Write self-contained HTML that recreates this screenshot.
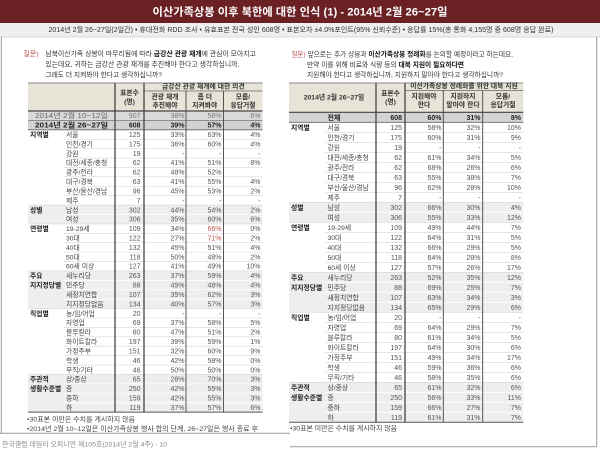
<!DOCTYPE html>
<html><head><meta charset="utf-8"><style>
html,body{margin:0;padding:0;background:#fff;}
svg{display:block;font-family:"Liberation Sans","Noto Sans CJK KR",sans-serif;}
.n text{font-size:7px;fill:#555;}
.lb text{font-size:6.8px;fill:#444;}
.gl text{font-size:6.8px;fill:#222;font-weight:bold;}
.hd text{font-size:6.8px;fill:#333;font-weight:bold;text-anchor:middle;}
</style></head><body>
<svg width="600" height="450" viewBox="0 0 600 450" xmlns="http://www.w3.org/2000/svg">
<rect x="0" y="0" width="600" height="450" fill="#fff"/>
<!-- title bar -->
<rect x="0" y="0" width="600" height="23" fill="#6b2124"/>
<text x="300" y="15.5" fill="#fff" font-size="11" font-weight="bold" text-anchor="middle" textLength="295" lengthAdjust="spacingAndGlyphs">이산가족상봉 이후 북한에 대한 인식 (1) - 2014년 2월 26~27일</text>
<rect x="0" y="23" width="600" height="14" fill="#efefef"/>
<line x1="0" y1="37" x2="600" y2="37" stroke="#cfcfcf" stroke-width="0.8"/>
<text x="301" y="32" fill="#333" font-size="7" text-anchor="middle" textLength="505" lengthAdjust="spacingAndGlyphs">2014년 2월 26~27일(2일간) • 휴대전화 RDD 조사 • 유효표본 전국 성인 608명 • 표본오차 ±4.0%포인트(95% 신뢰수준) • 응답률 15%(총 통화 4,155명 중 608명 응답 완료)</text>
<!-- frame -->
<line x1="1.3" y1="37" x2="1.3" y2="433.3" stroke="#999" stroke-width="1"/>
<line x1="596.7" y1="37" x2="596.7" y2="446.7" stroke="#999" stroke-width="1"/>
<line x1="0" y1="433.3" x2="290" y2="433.3" stroke="#999" stroke-width="1"/>
<line x1="290" y1="446.7" x2="597" y2="446.7" stroke="#999" stroke-width="1"/>
<text x="2" y="446.3" fill="#888" font-size="6.8" textLength="165" lengthAdjust="spacingAndGlyphs">한국갤럽 데일리 오피니언 제105호(2014년 2월 4주) - 10</text>

<!-- LEFT question -->
<text x="23.5" y="56" fill="#c0504d" font-size="6.8" textLength="15" lengthAdjust="spacingAndGlyphs">질문)</text>
<text x="45.4" y="56" fill="#333" font-size="6.8" textLength="210.5" lengthAdjust="spacingAndGlyphs">남북이산가족 상봉이 마무리됨에 따라 <tspan font-weight="bold" fill="#111">금강산 관광 재개</tspan>에 관심이 모아지고</text>
<text x="45.4" y="66.5" fill="#333" font-size="6.8" textLength="194" lengthAdjust="spacingAndGlyphs">있는데요, 귀하는 금강산 관광 재개를 추진해야 한다고 생각하십니까,</text>
<text x="45.4" y="77" fill="#333" font-size="6.8" textLength="116.6" lengthAdjust="spacingAndGlyphs">그래도 더 지켜봐야 한다고 생각하십니까?</text>

<!-- RIGHT question -->
<text x="291.5" y="56.5" fill="#c0504d" font-size="6.8" textLength="14" lengthAdjust="spacingAndGlyphs">질문)</text>
<text x="307.5" y="56.5" fill="#333" font-size="6.8" textLength="205.5" lengthAdjust="spacingAndGlyphs">앞으로는 추가 상봉과 <tspan font-weight="bold" fill="#111">이산가족상봉 정례화</tspan>를 논의할 예정이라고 하는데요,</text>
<text x="307" y="66.8" fill="#333" font-size="6.8" textLength="157" lengthAdjust="spacingAndGlyphs">만약 이를 위해 비료와 식량 등의 <tspan font-weight="bold" fill="#111">대북 지원이 필요하다면</tspan></text>
<text x="307" y="77" fill="#333" font-size="6.8" textLength="196" lengthAdjust="spacingAndGlyphs">지원해야 한다고 생각하십니까, 지원하지 말아야 한다고 생각하십니까?</text>

<!-- ================= LEFT TABLE ================= -->
<rect x="28" y="83" width="234.5" height="28" fill="#e7e3d7"/>
<rect x="28" y="111" width="234.5" height="9.4" fill="#dadada"/>
<rect x="28" y="120.4" width="234.5" height="9.4" fill="#d2d2d2"/>
<rect x="28" y="205.08" width="234.5" height="18.82" fill="#eeeeee"/>
<rect x="28" y="270.95" width="234.5" height="37.64" fill="#eeeeee"/>
<rect x="28" y="374.46" width="234.5" height="37.64" fill="#eeeeee"/>
<g stroke="#d6d6d6" stroke-width="0.6">
<line x1="64" y1="139.21" x2="262.5" y2="139.21"/><line x1="64" y1="148.62" x2="262.5" y2="148.62"/><line x1="64" y1="158.03" x2="262.5" y2="158.03"/><line x1="64" y1="167.44" x2="262.5" y2="167.44"/><line x1="64" y1="176.85" x2="262.5" y2="176.85"/><line x1="64" y1="186.26" x2="262.5" y2="186.26"/><line x1="64" y1="195.67" x2="262.5" y2="195.67"/><line x1="28" y1="205.08" x2="262.5" y2="205.08"/><line x1="28" y1="223.9" x2="262.5" y2="223.9"/><line x1="64" y1="233.31" x2="262.5" y2="233.31"/><line x1="64" y1="242.72" x2="262.5" y2="242.72"/><line x1="64" y1="252.13" x2="262.5" y2="252.13"/><line x1="64" y1="261.54" x2="262.5" y2="261.54"/><line x1="28" y1="270.95" x2="262.5" y2="270.95"/><line x1="28" y1="308.59" x2="262.5" y2="308.59"/><line x1="64" y1="318" x2="262.5" y2="318"/><line x1="64" y1="327.41" x2="262.5" y2="327.41"/><line x1="64" y1="336.82" x2="262.5" y2="336.82"/><line x1="64" y1="346.23" x2="262.5" y2="346.23"/><line x1="64" y1="355.64" x2="262.5" y2="355.64"/><line x1="64" y1="365.05" x2="262.5" y2="365.05"/><line x1="28" y1="374.46" x2="262.5" y2="374.46"/>
</g>
<g stroke="#ffffff" stroke-width="0.8">
<line x1="64" y1="214.49" x2="262.5" y2="214.49"/><line x1="64" y1="280.36" x2="262.5" y2="280.36"/><line x1="64" y1="289.77" x2="262.5" y2="289.77"/><line x1="64" y1="299.18" x2="262.5" y2="299.18"/><line x1="64" y1="383.87" x2="262.5" y2="383.87"/><line x1="64" y1="393.28" x2="262.5" y2="393.28"/><line x1="64" y1="402.69" x2="262.5" y2="402.69"/>
</g>
<line x1="28" y1="83" x2="262.5" y2="83" stroke="#8a8a8a" stroke-width="1"/>
<line x1="144" y1="91" x2="262.5" y2="91" stroke="#666" stroke-width="0.8"/>
<line x1="28" y1="111" x2="262.5" y2="111" stroke="#444" stroke-width="1.2"/>
<line x1="28" y1="120.4" x2="262.5" y2="120.4" stroke="#777" stroke-width="0.8"/>
<line x1="28" y1="129.8" x2="262.5" y2="129.8" stroke="#666" stroke-width="0.9"/>
<line x1="28" y1="412.1" x2="262.5" y2="412.1" stroke="#555" stroke-width="1"/>
<line x1="115" y1="83" x2="115" y2="412.1" stroke="#444" stroke-width="1.3"/>
<line x1="144" y1="83" x2="144" y2="412.1" stroke="#444" stroke-width="1.3"/>
<line x1="186" y1="91" x2="186" y2="412.1" stroke="#444" stroke-width="0.9"/>
<line x1="223.5" y1="91" x2="223.5" y2="412.1" stroke="#444" stroke-width="0.9"/>

<g class="hd">
<text x="203.3" y="88.6">금강산 관광 재개에 대한 의견</text>
<text x="165" y="99.2">관광 재개</text><text x="165" y="107.6">추진해야</text>
<text x="204.8" y="99.2">좀 더</text><text x="204.8" y="107.6">지켜봐야</text>
<text x="243" y="99.2">모름/</text><text x="243" y="107.6">응답거절</text>
<text x="129.5" y="95.2">표본수</text><text x="129.5" y="104">(명)</text>
</g>
<text x="71.5" y="118.2" fill="#666" font-size="7" text-anchor="middle" textLength="73" lengthAdjust="spacingAndGlyphs">2014년 2월 10~12일</text>
<text x="71.5" y="127.6" fill="#222" font-size="7" font-weight="bold" text-anchor="middle" textLength="73" lengthAdjust="spacingAndGlyphs">2014년 2월 26~27일</text>
<g font-size="7" text-anchor="end" fill="#777">
<text x="140.5" y="118.2">907</text><text x="184.5" y="118.2">38%</text><text x="221.5" y="118.2">56%</text><text x="260.5" y="118.2">6%</text>
</g>
<g font-size="7" text-anchor="end" fill="#222" font-weight="bold">
<text x="140.5" y="127.6">608</text><text x="184.5" y="127.6">39%</text><text x="221.5" y="127.6">57%</text><text x="260.5" y="127.6">4%</text>
</g>

<g class="gl">
<text x="30" y="137">지역별</text><text x="30" y="212.3">성별</text><text x="30" y="231.1">연령별</text><text x="30" y="278.2">주요</text><text x="30" y="287.6">지지정당별</text><text x="30" y="315.8">직업별</text><text x="30" y="381.7">주관적</text><text x="30" y="391.1">생활수준별</text>
</g>
<g class="lb" transform="translate(66,0)">
<text y="137">서울</text><text y="146.4">인천/경기</text><text y="155.8">강원</text><text y="165.2">대전/세종/충청</text><text y="174.6">광주/전라</text><text y="184.1">대구/경북</text><text y="193.5">부산/울산/경남</text><text y="202.9">제주</text><text y="212.3">남성</text><text y="221.7">여성</text><text y="231.1">19-29세</text><text y="240.5">30대</text><text y="249.9">40대</text><text y="259.3">50대</text><text y="268.7">60세 이상</text><text y="278.2">새누리당</text><text y="287.6">민주당</text><text y="297">새정치연합</text><text y="306.4">지지정당없음</text><text y="315.8">농/임/어업</text><text y="325.2">자영업</text><text y="334.6">블루칼라</text><text y="344">화이트칼라</text><text y="353.4">가정주부</text><text y="362.8">학생</text><text y="372.3">무직/기타</text><text y="381.7">상/중상</text><text y="391.1">중</text><text y="400.5">중하</text><text y="409.9">하</text>
</g>
<g class="n" text-anchor="end" transform="translate(140.5,0)">
<text y="137">125</text><text y="146.4">175</text><text y="155.8">19</text><text y="165.2">62</text><text y="174.6">62</text><text y="184.1">63</text><text y="193.5">96</text><text y="202.9">7</text><text y="212.3">302</text><text y="221.7">306</text><text y="231.1">109</text><text y="240.5">122</text><text y="249.9">132</text><text y="259.3">118</text><text y="268.7">127</text><text y="278.2">263</text><text y="287.6">88</text><text y="297">107</text><text y="306.4">134</text><text y="315.8">20</text><text y="325.2">69</text><text y="334.6">80</text><text y="344">197</text><text y="353.4">151</text><text y="362.8">46</text><text y="372.3">46</text><text y="381.7">65</text><text y="391.1">250</text><text y="400.5">159</text><text y="409.9">119</text>
</g>
<g class="n" text-anchor="end" transform="translate(184.5,0)">
<text y="137">33%</text><text y="146.4">36%</text><text y="155.8">-</text><text y="165.2">41%</text><text y="174.6">48%</text><text y="184.1">41%</text><text y="193.5">45%</text><text y="202.9">-</text><text y="212.3">44%</text><text y="221.7">35%</text><text y="231.1">34%</text><text y="240.5">27%</text><text y="249.9">45%</text><text y="259.3">50%</text><text y="268.7">41%</text><text y="278.2">37%</text><text y="287.6">49%</text><text y="297">35%</text><text y="306.4">40%</text><text y="315.8">-</text><text y="325.2">37%</text><text y="334.6">47%</text><text y="344">39%</text><text y="353.4">32%</text><text y="362.8">42%</text><text y="372.3">50%</text><text y="381.7">28%</text><text y="391.1">42%</text><text y="400.5">42%</text><text y="409.9">37%</text>
</g>
<g class="n" text-anchor="end" transform="translate(221.5,0)">
<text y="137">63%</text><text y="146.4">60%</text><text y="155.8">-</text><text y="165.2">51%</text><text y="174.6">52%</text><text y="184.1">55%</text><text y="193.5">53%</text><text y="202.9">-</text><text y="212.3">54%</text><text y="221.7">60%</text><text y="231.1" style="fill:#c0504d">66%</text><text y="240.5" style="fill:#c0504d">71%</text><text y="249.9">51%</text><text y="259.3">48%</text><text y="268.7">49%</text><text y="278.2">59%</text><text y="287.6">48%</text><text y="297">62%</text><text y="306.4">57%</text><text y="315.8">-</text><text y="325.2">58%</text><text y="334.6">51%</text><text y="344">59%</text><text y="353.4">60%</text><text y="362.8">58%</text><text y="372.3">50%</text><text y="381.7">70%</text><text y="391.1">55%</text><text y="400.5">55%</text><text y="409.9">57%</text>
</g>
<g class="n" text-anchor="end" transform="translate(260.5,0)">
<text y="137">4%</text><text y="146.4">4%</text><text y="155.8">-</text><text y="165.2">8%</text><text y="184.1">4%</text><text y="193.5">2%</text><text y="202.9">-</text><text y="212.3">2%</text><text y="221.7">6%</text><text y="231.1">0%</text><text y="240.5">2%</text><text y="249.9">4%</text><text y="259.3">2%</text><text y="268.7">10%</text><text y="278.2">4%</text><text y="287.6">4%</text><text y="297">3%</text><text y="306.4">3%</text><text y="315.8">-</text><text y="325.2">5%</text><text y="334.6">2%</text><text y="344">1%</text><text y="353.4">9%</text><text y="362.8">0%</text><text y="372.3">0%</text><text y="381.7">3%</text><text y="391.1">3%</text><text y="400.5">3%</text><text y="409.9">6%</text>
</g>
<text x="27" y="421.5" fill="#444" font-size="6.8" textLength="108" lengthAdjust="spacingAndGlyphs">•30표본 미만은 수치를 게시하지 않음</text>
<text x="27" y="431" fill="#444" font-size="6.8" textLength="231" lengthAdjust="spacingAndGlyphs">•2014년 2월 10~12일은 이산가족상봉 행사 합의 단계, 26~27일은 행사 종료 후</text>

<!-- ================= RIGHT TABLE ================= -->
<rect x="289" y="83" width="234.3" height="29.3" fill="#e7e3d7"/>
<rect x="289" y="112.3" width="234.3" height="10" fill="#d4d4d4"/>
<rect x="289" y="202.3" width="234.3" height="20" fill="#eeeeee"/>
<rect x="289" y="272.3" width="234.3" height="40" fill="#eeeeee"/>
<rect x="289" y="382.3" width="234.3" height="40" fill="#eeeeee"/>
<g stroke="#d6d6d6" stroke-width="0.6">
<line x1="325" y1="132.3" x2="523.3" y2="132.3"/><line x1="325" y1="142.3" x2="523.3" y2="142.3"/><line x1="325" y1="152.3" x2="523.3" y2="152.3"/><line x1="325" y1="162.3" x2="523.3" y2="162.3"/><line x1="325" y1="172.3" x2="523.3" y2="172.3"/><line x1="325" y1="182.3" x2="523.3" y2="182.3"/><line x1="325" y1="192.3" x2="523.3" y2="192.3"/><line x1="289" y1="202.3" x2="523.3" y2="202.3"/><line x1="289" y1="222.3" x2="523.3" y2="222.3"/><line x1="325" y1="232.3" x2="523.3" y2="232.3"/><line x1="325" y1="242.3" x2="523.3" y2="242.3"/><line x1="325" y1="252.3" x2="523.3" y2="252.3"/><line x1="325" y1="262.3" x2="523.3" y2="262.3"/><line x1="289" y1="272.3" x2="523.3" y2="272.3"/><line x1="289" y1="312.3" x2="523.3" y2="312.3"/><line x1="325" y1="322.3" x2="523.3" y2="322.3"/><line x1="325" y1="332.3" x2="523.3" y2="332.3"/><line x1="325" y1="342.3" x2="523.3" y2="342.3"/><line x1="325" y1="352.3" x2="523.3" y2="352.3"/><line x1="325" y1="362.3" x2="523.3" y2="362.3"/><line x1="325" y1="372.3" x2="523.3" y2="372.3"/><line x1="289" y1="382.3" x2="523.3" y2="382.3"/>
</g>
<g stroke="#ffffff" stroke-width="0.8">
<line x1="325" y1="212.3" x2="523.3" y2="212.3"/><line x1="325" y1="282.3" x2="523.3" y2="282.3"/><line x1="325" y1="292.3" x2="523.3" y2="292.3"/><line x1="325" y1="302.3" x2="523.3" y2="302.3"/><line x1="325" y1="392.3" x2="523.3" y2="392.3"/><line x1="325" y1="402.3" x2="523.3" y2="402.3"/><line x1="325" y1="412.3" x2="523.3" y2="412.3"/>
</g>
<line x1="289" y1="83" x2="523.3" y2="83" stroke="#8a8a8a" stroke-width="1"/>
<line x1="405" y1="90.5" x2="523.3" y2="90.5" stroke="#666" stroke-width="0.8"/>
<line x1="289" y1="112.3" x2="523.3" y2="112.3" stroke="#444" stroke-width="1.2"/>
<line x1="289" y1="122.3" x2="523.3" y2="122.3" stroke="#666" stroke-width="0.9"/>
<line x1="289" y1="422.3" x2="523.3" y2="422.3" stroke="#555" stroke-width="1"/>
<line x1="376" y1="83" x2="376" y2="422.3" stroke="#444" stroke-width="1.3"/>
<line x1="405" y1="83" x2="405" y2="422.3" stroke="#444" stroke-width="1.3"/>
<line x1="443.3" y1="90.5" x2="443.3" y2="422.3" stroke="#444" stroke-width="0.9"/>
<line x1="482.7" y1="90.5" x2="482.7" y2="422.3" stroke="#444" stroke-width="0.9"/>

<g class="hd">
<text x="464" y="87.8">이산가족상봉 정례화를 위한 대북 지원</text>
<text x="424" y="98.5">지원해야</text><text x="424" y="107.2">한다</text>
<text x="463" y="98.5">지원하지</text><text x="463" y="107.2">말아야 한다</text>
<text x="503" y="98.5">모름/</text><text x="503" y="107.2">응답거절</text>
<text x="390.5" y="95.5">표본수</text><text x="390.5" y="104.2">(명)</text>
<text x="334" y="99.5">2014년 2월 26~27일</text>
</g>
<g font-size="7" fill="#222" font-weight="bold">
<text x="334" y="119.8" text-anchor="middle">전체</text>
<text x="402" y="119.8" text-anchor="end">608</text><text x="441.5" y="119.8" text-anchor="end">60%</text><text x="480.5" y="119.8" text-anchor="end">31%</text><text x="521" y="119.8" text-anchor="end">8%</text>
</g>

<g class="gl">
<text x="291" y="129.8">지역별</text><text x="291" y="209.8">성별</text><text x="291" y="229.8">연령별</text><text x="291" y="279.8">주요</text><text x="291" y="289.8">지지정당별</text><text x="291" y="319.8">직업별</text><text x="291" y="389.8">주관적</text><text x="291" y="399.8">생활수준별</text>
</g>
<g class="lb" transform="translate(327.5,0)">
<text y="129.8">서울</text><text y="139.8">인천/경기</text><text y="149.8">강원</text><text y="159.8">대전/세종/충청</text><text y="169.8">광주/전라</text><text y="179.8">대구/경북</text><text y="189.8">부산/울산/경남</text><text y="199.8">제주</text><text y="209.8">남성</text><text y="219.8">여성</text><text y="229.8">19-29세</text><text y="239.8">30대</text><text y="249.8">40대</text><text y="259.8">50대</text><text y="269.8">60세 이상</text><text y="279.8">새누리당</text><text y="289.8">민주당</text><text y="299.8">새정치연합</text><text y="309.8">지지정당없음</text><text y="319.8">농/임/어업</text><text y="329.8">자영업</text><text y="339.8">블루칼라</text><text y="349.8">화이트칼라</text><text y="359.8">가정주부</text><text y="369.8">학생</text><text y="379.8">무직/기타</text><text y="389.8">상/중상</text><text y="399.8">중</text><text y="409.8">중하</text><text y="419.8">하</text>
</g>
<g class="n" text-anchor="end" transform="translate(402,0)">
<text y="129.8">125</text><text y="139.8">175</text><text y="149.8">19</text><text y="159.8">62</text><text y="169.8">62</text><text y="179.8">63</text><text y="189.8">96</text><text y="199.8">7</text><text y="209.8">302</text><text y="219.8">306</text><text y="229.8">109</text><text y="239.8">122</text><text y="249.8">132</text><text y="259.8">118</text><text y="269.8">127</text><text y="279.8">263</text><text y="289.8">88</text><text y="299.8">107</text><text y="309.8">134</text><text y="319.8">20</text><text y="329.8">69</text><text y="339.8">80</text><text y="349.8">197</text><text y="359.8">151</text><text y="369.8">46</text><text y="379.8">46</text><text y="389.8">65</text><text y="399.8">250</text><text y="409.8">159</text><text y="419.8">119</text>
</g>
<g class="n" text-anchor="end" transform="translate(441.5,0)">
<text y="129.8">58%</text><text y="139.8">60%</text><text y="149.8">-</text><text y="159.8">61%</text><text y="169.8">68%</text><text y="179.8">55%</text><text y="189.8">62%</text><text y="199.8">-</text><text y="209.8">66%</text><text y="219.8">55%</text><text y="229.8">49%</text><text y="239.8">64%</text><text y="249.8">66%</text><text y="259.8">64%</text><text y="269.8">57%</text><text y="279.8">52%</text><text y="289.8">69%</text><text y="299.8">63%</text><text y="309.8">65%</text><text y="319.8">-</text><text y="329.8">64%</text><text y="339.8">61%</text><text y="349.8">64%</text><text y="359.8">49%</text><text y="369.8">59%</text><text y="379.8">58%</text><text y="389.8">61%</text><text y="399.8">56%</text><text y="409.8">66%</text><text y="419.8">61%</text>
</g>
<g class="n" text-anchor="end" transform="translate(480.5,0)">
<text y="129.8">32%</text><text y="139.8">31%</text><text y="149.8">-</text><text y="159.8">34%</text><text y="169.8">26%</text><text y="179.8">38%</text><text y="189.8">28%</text><text y="199.8">-</text><text y="209.8">30%</text><text y="219.8">33%</text><text y="229.8">44%</text><text y="239.8">31%</text><text y="249.8">29%</text><text y="259.8">28%</text><text y="269.8">26%</text><text y="279.8">35%</text><text y="289.8">25%</text><text y="299.8">34%</text><text y="309.8">29%</text><text y="319.8">-</text><text y="329.8">29%</text><text y="339.8">34%</text><text y="349.8">30%</text><text y="359.8">34%</text><text y="369.8">36%</text><text y="379.8">35%</text><text y="389.8">32%</text><text y="399.8">33%</text><text y="409.8">27%</text><text y="419.8">31%</text>
</g>
<g class="n" text-anchor="end" transform="translate(521,0)">
<text y="129.8">10%</text><text y="139.8">9%</text><text y="149.8">-</text><text y="159.8">5%</text><text y="169.8">6%</text><text y="179.8">7%</text><text y="189.8">10%</text><text y="199.8">-</text><text y="209.8">4%</text><text y="219.8">12%</text><text y="229.8">7%</text><text y="239.8">5%</text><text y="249.8">5%</text><text y="259.8">8%</text><text y="269.8">17%</text><text y="279.8">12%</text><text y="289.8">7%</text><text y="299.8">3%</text><text y="309.8">6%</text><text y="319.8">-</text><text y="329.8">7%</text><text y="339.8">5%</text><text y="349.8">6%</text><text y="359.8">17%</text><text y="369.8">6%</text><text y="379.8">6%</text><text y="389.8">6%</text><text y="399.8">11%</text><text y="409.8">7%</text><text y="419.8">7%</text>
</g>
<text x="290" y="430.5" fill="#444" font-size="6.8" textLength="107" lengthAdjust="spacingAndGlyphs">•30표본 미만은 수치를 게시하지 않음</text>
</svg>
</body></html>
